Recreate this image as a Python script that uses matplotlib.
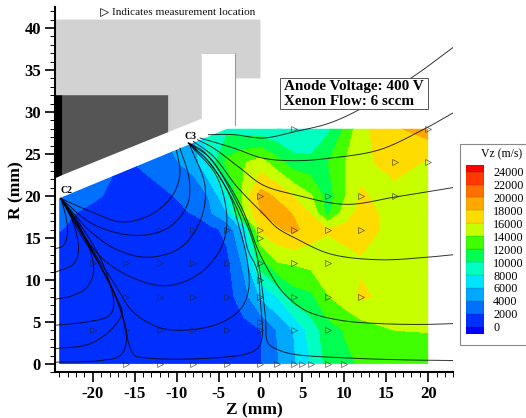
import numpy as np
import matplotlib
matplotlib.use('Agg')
import matplotlib.pyplot as plt
from matplotlib.patches import Polygon, Rectangle
from matplotlib.ticker import MultipleLocator

plt.rcParams['font.family'] = ['Liberation Serif', 'DejaVu Serif']
plt.rcParams['axes.unicode_minus'] = False

# velocity table, Vz in m/s, one row per R
z_grid = [-24, -20, -16, -12, -8, -6, -4, -2, 0, 2, 4, 6, 8, 10, 12, 16, 20]
r_grid = [0, 4, 8, 12, 16, 18, 20, 24, 28]
vz_r0 = [1000, 1000, 1000, 1000, 1000, 1000, 1000, 1500, 1900, 3800, 5700, 8000, 10600, 11600, 12200, 13000, 13300]
vz_r4 = [1000, 1000, 1000, 1000, 1000, 1000, 1000, 1300, 1900, 4100, 6100, 8900, 11000, 12100, 12900, 14000, 14050]
vz_r8 = [1000, 1000, 1000, 1000, 1000, 1000, 1200, 3100, 6200, 8000, 11000, 11500, 13900, 15000, 16300, 15300, 15500]
vz_r12 = [1000, 1000, 1000, 1000, 1000, 1000, 1500, 4400, 11000, 13900, 14200, 14600, 15000, 15300, 15700, 15700, 15500]
vz_r16 = [2100, 1000, 1000, 1000, 1000, 1400, 2500, 6500, 16500, 17700, 18500, 17000, 16200, 16600, 17000, 15200, 15400]
vz_r18 = [2300, 1700, 1000, 1300, 2100, 3800, 6000, 14000, 18000, 18800, 17800, 15800, 11400, 14800, 16700, 15300, 15500]
vz_r20 = [2600, 2200, 1500, 1500, 2700, 4200, 8000, 14600, 18800, 17700, 15900, 14200, 11000, 13800, 16200, 15300, 15500]
vz_r24 = [3000, 2800, 1800, 3000, 4800, 8700, 12500, 13800, 14900, 12800, 10800, 10600, 11900, 13900, 15500, 16800, 15800]
vz_r28 = [3000, 3000, 3000, 4000, 6000, 9000, 9500, 9000, 8600, 8000, 7900, 8000, 9500, 12200, 15400, 17700, 19000]

levels = [0, 2000, 4000, 6000, 8000, 10000, 12000, 14000, 16000, 18000, 20000, 22000, 24000]
band_colors = ['#0000ff', '#0030ff', '#0070ff', '#00a8ff', '#00e5ff', '#00ffc0', '#00ff50',
               '#40ff00', '#c8ff00', '#ffdc00', '#ffa800', '#ff7000', '#ff3800', '#ff0000']

# measurement locations
meas_z = [-16, -12, -8, -4, 0, 2, 4, 5, 6, 8, 10,
          -20, -16, -12, -8, -4, 0, 4, 8,
          0,
          -16, -12, -8, -4, 0, 4, 8, 12,
          0,
          -20, -16, -12, -8, -4, 0, 4, 8,
          0,
          -12, -8, -4, 0, 4, 8, 12,
          0, 8, 12, 16,
          16, 20,
          4, 20]
meas_r = [0] * 11 + [4] * 8 + [5] + [8] * 8 + [10] + [12] * 8 + [15] + [16] * 7 + [20] * 4 + [24] * 2 + [28] * 2

# magnetic field lines, (Z, R)
field_lines = [
    [(-23.8, 19.7), (-23.2, 17.5), (-23, 15.7), (-23.5, 14.1), (-24.5, 13.7)],
    [(-23.8, 19.7), (-22.4, 17), (-21.7, 13.5), (-22.3, 11.9), (-24.5, 10.9)],
    [(-23.8, 19.7), (-21.9, 17), (-20.3, 13.5), (-19.9, 11), (-20.7, 9.1), (-22.5, 8.1), (-24.5, 7.7)],
    [(-23.8, 19.7), (-21.1, 16), (-18.7, 11.7), (-17.5, 6.9), (-18.1, 5.7), (-20.7, 5), (-24.5, 4.6)],
    [(-23.8, 19.7), (-21.5, 15.5), (-19.1, 11.7), (-17.1, 7.7), (-16.5, 6.2), (-17.5, 4.4), (-20.3, 2.4), (-24.5, 1.8)],
    [(-23.8, 19.7), (-21.7, 16.5), (-19.3, 12), (-17.3, 8), (-16.2, 4.6), (-16, 2.6), (-16.7, 1), (-19.1, 0.4), (-24.5, 0.2)],
    [(-23.8, 19.7), (-19.9, 18), (-16.5, 16.9), (-13, 17.8), (-10.4, 20.2), (-9.6, 22.7), (-10, 25.4)],
    [(-23.8, 19.7), (-19.9, 16.6), (-14.9, 15.3), (-11, 16.2), (-8.7, 19), (-8.5, 22), (-9.6, 25.7)],
    [(-23.8, 19.7), (-20.3, 15.8), (-17.1, 13.6), (-13.5, 12.7), (-9.6, 13.8), (-7.2, 17), (-6.6, 21.1), (-8.4, 26)],
    [(-23.8, 19.7), (-19.1, 12.8), (-15.1, 10.2), (-11.2, 9.3), (-7.5, 10.6), (-4.8, 13.6), (-4, 17.1), (-5.2, 22.3), (-8.5, 26.2)],
    [(-23.8, 19.7), (-19.3, 12.4), (-17.5, 9.7), (-15.2, 6.2), (-12.5, 4.5), (-10, 4), (-5.2, 4.7), (-2.4, 6.5), (-1.4, 8.9), (-1.6, 12.5), (-2.6, 16.5), (-3.6, 19.9), (-6, 23.9), (-8.6, 26.3)],
    [(-23.8, 19.7), (-19, 11.5), (-17, 7.5), (-16.1, 4.5), (-15.7, 2.4), (-15, 1), (-13.5, 0.7), (-9.6, 0.56), (-4.4, 0.8), (-1.6, 1.2), (-0.3, 1.9), (0.2, 3.2), (0, 7.3), (-0.4, 11.2), (-1.5, 13.6), (-2.4, 17.5), (-4.4, 21.5), (-6.4, 24.3), (-8.6, 26.3)],
    [(-8.6, 26.3), (-6, 24.5), (-3.6, 20.7), (-1.5, 16.3), (-0.4, 12.8), (0.6, 5.6), (0.9, 2.5), (2.3, 1.6), (4.3, 1.1), (8.3, 0.8), (16.2, 0.5), (23, 0.4)],
    [(-8.5, 26.3), (-6.8, 25.3), (-4.4, 22.3), (-2.1, 18.3), (-0.3, 13.6), (1.1, 10.9), (2.7, 8.5), (5.5, 6.3), (9.5, 5.2), (14.2, 4.8), (19.4, 4.7), (23, 4.8)],
    [(-8, 26.5), (-5.6, 24.7), (-2.8, 21.1), (0.3, 17.9), (2, 16.2), (4.3, 14.9), (8.3, 13.1), (14.2, 12.4), (19.8, 12.7), (23, 13)],
    [(-7.5, 26.7), (-5.6, 25.7), (-2.4, 23.3), (0.3, 21.3), (4.3, 20.1), (10.2, 19), (16.2, 19.9), (23, 21)],
    [(-7.2, 26.9), (-3.2, 25.7), (0.3, 24.5), (4.3, 24.2), (8.3, 24.5), (14.2, 25.5), (19.4, 27.9), (23, 29.9)],
    [(-6.2, 27.3), (-3.2, 27.3), (0.3, 26.9), (4.3, 27.7), (8.3, 28.7), (12.2, 30.5), (18.2, 34.2), (23, 37.7)],
]

# thruster outline
data_region = [(-24, 0), (20, 0), (20, 28), (-3.97, 28), (-24, 19.72)]
light_part = [(-24.5, 41), (0, 41), (0, 34), (-3, 34), (-3, 37), (-7, 37), (-7, 29.2), (-11, 27.6), (-11, 32), (-24.5, 32)]
dark_part = [(-23.6, 32), (-11, 32), (-11, 27.6), (-23.6, 22.5)]
black_part = [(-24.5, 32), (-23.6, 32), (-23.6, 22.5), (-24.5, 22.1)]


def smooth(points, n=12):
    # hermite through the read points, just to round off the corners
    p = np.array(points, dtype=float)
    d = np.sqrt(np.hypot(*np.diff(p, axis=0).T))
    t = np.concatenate([[0], np.cumsum(d)])
    m = np.gradient(p, t, axis=0)
    out = []
    for i in range(len(p) - 1):
        s = np.linspace(0, 1, n)[:, None]
        h = d[i]
        out.append((2 * s**3 - 3 * s**2 + 1) * p[i] + (s**3 - 2 * s**2 + s) * h * m[i]
                   + (-2 * s**3 + 3 * s**2) * p[i + 1] + (s**3 - s**2) * h * m[i + 1])
    return np.vstack(out)


fig = plt.figure(figsize=(5.26, 4.18), dpi=100)
ax = fig.add_axes([55 / 526, 1 - 372.3 / 418, (453.3 - 55) / 526, (372.3 - 7) / 418])

vz = np.array([vz_r0, vz_r4, vz_r8, vz_r12, vz_r16, vz_r18, vz_r20, vz_r24, vz_r28])
clip = Polygon(data_region, closed=True, transform=ax.transData)
cs = ax.contourf(z_grid, r_grid, vz, levels=levels, colors=band_colors[1:-1])
cs.set_clip_path(clip)

ax.add_patch(Polygon(light_part, closed=True, fc='#d2d2d2', ec='none', zorder=2))
ax.add_patch(Polygon(dark_part, closed=True, fc='#555555', ec='none', zorder=2))
ax.add_patch(Polygon(black_part, closed=True, fc='black', ec='none', zorder=2))
ax.plot([-3, -3], [37, 28.4], color='#999999', lw=0.8, zorder=2)
ax.plot([-3, -7], [37, 37], color='#bbbbbb', lw=0.5, zorder=2)

for line in field_lines:
    curve = smooth(line)
    ax.plot(curve[:, 0], curve[:, 1], color='black', lw=0.7, alpha=0.8, zorder=3)

ax.plot(meas_z, meas_r, ls='none', marker='>', ms=4, mfc='none', mec='#222222', mew=0.45, alpha=0.8, zorder=4)

ax.plot([-18.6], [41.9], ls='none', marker='>', ms=6, mfc='none', mec='#333333', mew=0.6, clip_on=False)
ax.text(-17.7, 41.9, 'Indicates measurement location', fontsize=8.1, va='center', ha='left', color='#111111')
ax.text(-23.9, 20.6, 'C2', fontsize=7, fontweight='bold', va='center', ha='left')
ax.text(-9.1, 27.1, 'C3', fontsize=7, fontweight='bold', va='center', ha='left')

ax.add_patch(Rectangle((2.37, 30.4), 17.57, 3.65, fc='white', ec='#555555', lw=0.7, zorder=5))
ax.text(2.8, 33.0, 'Anode Voltage: 400 V', fontsize=10.9, fontweight='bold', va='center', ha='left', zorder=6)
ax.text(2.8, 31.2, 'Xenon Flow: 6 sccm', fontsize=10.9, fontweight='bold', va='center', ha='left', zorder=6)

ax.set_xlim(-24.5, 23)
ax.set_ylim(-1, 42.5)
ax.spines['top'].set_visible(False)
ax.spines['right'].set_visible(False)
ax.spines['left'].set_linewidth(1.5)
ax.spines['bottom'].set_linewidth(1.5)
ax.xaxis.set_major_locator(MultipleLocator(5))
ax.xaxis.set_minor_locator(MultipleLocator(1))
ax.yaxis.set_major_locator(MultipleLocator(5))
ax.yaxis.set_minor_locator(MultipleLocator(1))
ax.tick_params(which='major', length=7, width=1.2, labelsize=12, pad=3)
ax.tick_params(which='minor', length=3.5, width=0.7)
for lab in ax.get_xticklabels() + ax.get_yticklabels():
    lab.set_fontweight('bold')
ax.set_xlabel('Z (mm)', fontsize=12.5, fontweight='bold', labelpad=0)
ax.set_ylabel('R (mm)', fontsize=12.5, fontweight='bold', labelpad=0)

# colour key on the right, box runs off the edge of the picture
fig.add_artist(Rectangle((460.3 / 526, 1 - 344.7 / 418), 80 / 526, 200.7 / 418, transform=fig.transFigure,
                         fc='white', ec='#888888', lw=0.8, zorder=-1))
fig.text(501.7 / 526, 1 - 154.3 / 418, 'Vz (m/s)', fontsize=8.5, ha='center', va='center')
cax = fig.add_axes([466 / 526, 1 - 334 / 418, 18 / 526, 169 / 418])
band_edges = [-1130] + levels + [25030]
for i in range(len(band_colors)):
    cax.bar(0, band_edges[i + 1] - band_edges[i], bottom=band_edges[i], width=1, color=band_colors[i],
            edgecolor='#00000040', linewidth=0.3)
cax.set_xlim(-0.5, 0.5)
cax.set_ylim(-1130, 25030)
cax.set_xticks([])
cax.yaxis.tick_right()
cax.set_yticks(levels)
cax.tick_params(axis='y', length=0, labelsize=8.7, pad=6.5)
for s in cax.spines.values():
    s.set_visible(False)

fig.savefig('out.png', dpi=100)
